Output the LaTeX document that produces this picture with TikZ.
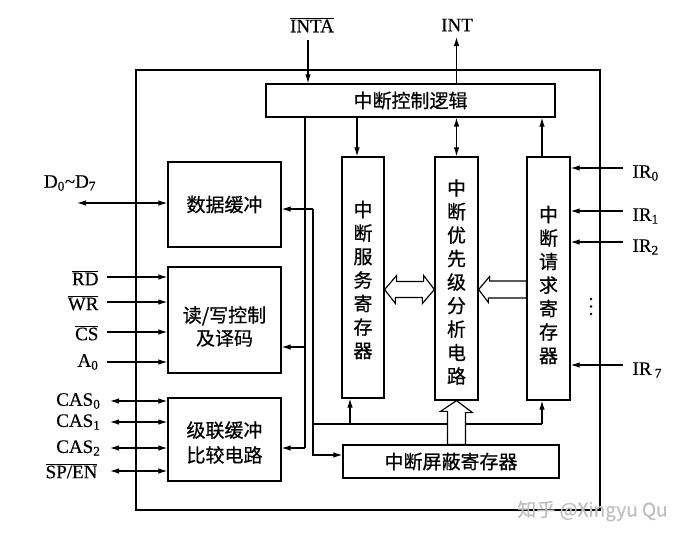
\documentclass[tikz,border=0pt]{standalone}
\usepackage{fontspec}
\setmainfont{Liberation Serif}[FakeBold=0.4]
\newfontfamily\cjk{Noto Sans CJK SC}[FakeBold=0.6]
\usetikzlibrary{arrows.meta}
\newcommand{\ovl}[1]{$\overline{\hbox{#1}}$}
\newcommand{\lsub}[1]{\textsubscript{#1}}
\begin{document}
\begin{tikzpicture}[x=1pt,y=-1pt,
  line width=1.15pt,
  >={Latex[length=9pt,width=5.5pt]},
  box/.style={draw, line width=1.25pt, inner sep=0pt, align=center,
    font=\cjk\fontsize{19}{23}\selectfont},
  vtxt/.style={inner sep=0pt, align=center, font=\cjk\fontsize{19}{23.5}\selectfont},
  lab/.style={inner sep=0pt, font=\fontsize{19}{21}\selectfont},
  arr/.style={->},
  arrb/.style={<->},
  hollow/.style={draw, fill=white, line width=1.15pt, line join=miter},
  dot/.style={fill, circle, inner sep=0pt, minimum size=2.8pt}
]
\useasboundingbox (0,0) rectangle (690,542);

% outer frame
\node[draw, line width=1.25pt, inner sep=0pt, minimum width=464pt, minimum height=440pt] (frame) at (368,290) {};

% blocks
\node[box, minimum width=289pt, minimum height=33pt] (ctrl) at (410.5,100.5) {中断控制逻辑};
\node[box, minimum width=113pt, minimum height=85pt] (data) at (224.5,204.5) {数据缓冲};
\node[box, minimum width=113pt, minimum height=106pt] (rw) at (224.5,320) {};
\node[vtxt, font=\cjk\fontsize{19}{23}\selectfont] (rwT) at (224.5,326.5) {读/写控制\\及译码};
\node[box, minimum width=113pt, minimum height=83pt] (cas) at (224.5,439.5) {};
\node[vtxt, font=\cjk\fontsize{19}{25}\selectfont] (casT) at (224.5,442.5) {级联缓冲\\比较电路};
\node[box, minimum width=42pt, minimum height=241pt] (isr) at (363,277.5) {};
\node[box, minimum width=43pt, minimum height=243pt] (pri) at (456.5,278.5) {};
\node[box, minimum width=43pt, minimum height=243pt] (irr) at (548.5,278.5) {};
\node[box, minimum width=216pt, minimum height=33pt] (mask) at (451,461.5) {中断屏蔽寄存器};

\node[vtxt] (isrT) at (363,280) {中\\断\\服\\务\\寄\\存\\器};
\node[vtxt] (priT) at (456.5,282) {中\\断\\优\\先\\级\\分\\析\\电\\路};
\node[vtxt] (irrT) at (548.5,285) {中\\断\\请\\求\\寄\\存\\器};

% helper coordinates
\coordinate (xA) at (305,0);
\coordinate (xB) at (313,0);
\coordinate (xS) at (357,0);
\coordinate (xSb) at (350,0);
\coordinate (xP) at (456.5,0);
\coordinate (xR) at (542,0);
\coordinate (yD) at (0,209);
\coordinate (yRW) at (0,347);
\coordinate (yC) at (0,448);
\coordinate (yH) at (0,424);
\coordinate (yM) at (0,455);
\coordinate (yW) at (0,289.5);

% top signals
\node[lab] (inta) at (312,25) {\ovl{INTA}};
\node[lab] (int) at (457,25) {INT};
\coordinate (intaS) at (308,40);
\coordinate (intE) at (456.5,37);
\draw[arr] (intaS) -- (intaS |- ctrl.north);
\draw[arr] (ctrl.north -| intE) -- (intE);

% control logic links
\draw[arr] (ctrl.south -| xS) -- (isr.north -| xS);
\draw[arrb] (ctrl.south -| xP) -- (pri.north -| xP);
\draw[arr] (irr.north -| xR) -- (ctrl.south -| xR);

% internal bus A
\draw (ctrl.south -| xA) -- (xA |- yC);
\draw[arr] (xA |- yRW) -- (rw.east |- yRW);
\draw[arr] (xA |- yC) -- (cas.east |- yC);

% internal bus B
\draw[arr] (xB |- yD) -- (data.east |- yD);
\draw[arr] (xB |- yD) -- (xB |- yM) -- (mask.west |- yM);
\draw (xB |- yH) -- (xR |- yH);
\draw[arr] (xSb |- yH) -- (isr.south -| xSb);
\draw[arr] (xR |- yH) -- (irr.south -| xR);

% hollow arrows
\draw[hollow] (isr.east |- yW) -- ++(12,-14) -- ++(0,6) -- ++(27,0) -- ++(0,-6)
  -- (pri.west |- yW) -- ++(-12,14) -- ++(0,-6) -- ++(-27,0) -- ++(0,6) -- cycle;
\draw[hollow] (pri.east |- yW) -- ++(11,-13) -- ++(0,4.5) -- (irr.west |- 0,281)
  -- (irr.west |- 0,298) -- ++(-38,0) -- ++(0,4.5) -- cycle;
\draw[hollow] (pri.south) -- ++(16,12) -- ++(-7,0) -- (mask.north -| 465.5,0)
  -- (mask.north -| 447.5,0) -- ++(0,-33) -- ++(-7,0) -- cycle;

% left signals
\node[lab] (dlab) at (70,183) {D\lsub{0}\textasciitilde D\lsub{7}};
\coordinate (dS) at (77,203);
\draw[arrb] (dS) -- (dS -| data.west);

\coordinate (rdS) at (107,277);
\coordinate (wrS) at (107,302);
\coordinate (csS) at (107,332);
\coordinate (a0S) at (107,362);
\node[lab, anchor=east] (rdL) at (99,278) {\ovl{RD}};
\node[lab, anchor=east] (wrL) at (99,303) {\ovl{WR}};
\node[lab, anchor=east] (csL) at (99,333) {\ovl{CS}};
\node[lab, anchor=east] (a0L) at (99,362) {A\lsub{0}};
\draw[arr] (rdS) -- (rdS -| rw.west);
\draw[arr] (wrS) -- (wrS -| rw.west);
\draw[arr] (csS) -- (csS -| rw.west);
\draw[arr] (a0S) -- (a0S -| rw.west);

\coordinate (c0S) at (110,401);
\coordinate (c1S) at (110,422);
\coordinate (c2S) at (110,448);
\coordinate (spS) at (110,471);
\node[lab, anchor=east] (c0L) at (101,401) {CAS\lsub{0}};
\node[lab, anchor=east] (c1L) at (101,422) {CAS\lsub{1}};
\node[lab, anchor=east] (c2L) at (101,448) {CAS\lsub{2}};
\node[lab, anchor=east] (spL) at (98,471) {\ovl{SP/EN}};
\draw[arrb] (c0S) -- (c0S -| cas.west);
\draw[arrb] (c1S) -- (c1S -| cas.west);
\draw[arrb] (c2S) -- (c2S -| cas.west);
\draw[arrb] (spS) -- (spS -| cas.west);

% IR inputs
\coordinate (ir0S) at (623,168);
\coordinate (ir1S) at (623,211);
\coordinate (ir2S) at (623,242);
\coordinate (ir7S) at (623,365);
\node[lab, anchor=west] (ir0L) at (632,173) {IR\lsub{0}};
\node[lab, anchor=west] (ir1L) at (632,216) {IR\lsub{1}};
\node[lab, anchor=west] (ir2L) at (632,247) {IR\lsub{2}};
\node[lab, anchor=west] (ir7L) at (632,370) {IR\,\lsub{7}};
\draw[arr] (ir0S) -- (ir0S -| irr.east);
\draw[arr] (ir1S) -- (ir1S -| irr.east);
\draw[arr] (ir2S) -- (ir2S -| irr.east);
\draw[arr] (ir7S) -- (ir7S -| irr.east);
\node[dot] (d1) at (591,299) {};
\node[dot] (d2) at (591,306.5) {};
\node[dot] (d3) at (591,314) {};

% watermark
\node[inner sep=0pt, text=black!25, font=\cjk\fontsize{19}{20}\selectfont] (wm) at (592.5,511) {知乎 @Xingyu Qu};
\end{tikzpicture}
\end{document}
